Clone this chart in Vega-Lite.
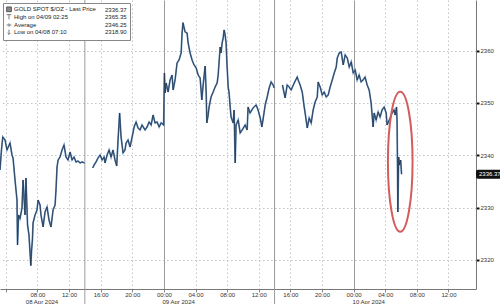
{
  "$schema": "https://vega.github.io/schema/vega-lite/v6.json",
  "width": 476,
  "height": 289,
  "padding": {"left": 0, "top": 0, "right": 24, "bottom": 15},
  "autosize": {"type": "none"},
  "background": "white",
  "config": {"view": {"stroke": null}, "font": "Liberation Sans"},
  "datasets": {
    "gold": [
      {"t": "2024-04-08T03:16:00Z", "p": 2337.19, "s": 1},
      {"t": "2024-04-08T03:27:00Z", "p": 2341.01, "s": 1},
      {"t": "2024-04-08T03:37:00Z", "p": 2343.5, "s": 1},
      {"t": "2024-04-08T03:54:00Z", "p": 2342.93, "s": 1},
      {"t": "2024-04-08T04:09:00Z", "p": 2341.01, "s": 1},
      {"t": "2024-04-08T04:32:00Z", "p": 2342.35, "s": 1},
      {"t": "2024-04-08T04:47:00Z", "p": 2340.06, "s": 1},
      {"t": "2024-04-08T04:55:00Z", "p": 2339.48, "s": 1},
      {"t": "2024-04-08T05:10:00Z", "p": 2335.28, "s": 1},
      {"t": "2024-04-08T05:25:00Z", "p": 2331.45, "s": 1},
      {"t": "2024-04-08T05:29:00Z", "p": 2322.85, "s": 1},
      {"t": "2024-04-08T05:37:00Z", "p": 2328.59, "s": 1},
      {"t": "2024-04-08T05:48:00Z", "p": 2327.9, "s": 1},
      {"t": "2024-04-08T06:03:00Z", "p": 2329.92, "s": 1},
      {"t": "2024-04-08T06:11:00Z", "p": 2335.28, "s": 1},
      {"t": "2024-04-08T06:26:00Z", "p": 2328.59, "s": 1},
      {"t": "2024-04-08T06:33:00Z", "p": 2335.66, "s": 1},
      {"t": "2024-04-08T06:45:00Z", "p": 2326.67, "s": 1},
      {"t": "2024-04-08T06:56:00Z", "p": 2324.76, "s": 1},
      {"t": "2024-04-08T07:10:00Z", "p": 2318.9, "s": 1},
      {"t": "2024-04-08T07:16:00Z", "p": 2321.89, "s": 1},
      {"t": "2024-04-08T07:22:00Z", "p": 2323.81, "s": 1},
      {"t": "2024-04-08T07:27:00Z", "p": 2327.06, "s": 1},
      {"t": "2024-04-08T07:42:00Z", "p": 2328.59, "s": 1},
      {"t": "2024-04-08T07:57:00Z", "p": 2329.54, "s": 1},
      {"t": "2024-04-08T08:05:00Z", "p": 2331.45, "s": 1},
      {"t": "2024-04-08T08:20:00Z", "p": 2330.5, "s": 1},
      {"t": "2024-04-08T08:27:00Z", "p": 2328.59, "s": 1},
      {"t": "2024-04-08T08:43:00Z", "p": 2326.29, "s": 1},
      {"t": "2024-04-08T08:58:00Z", "p": 2329.16, "s": 1},
      {"t": "2024-04-08T09:13:00Z", "p": 2330.11, "s": 1},
      {"t": "2024-04-08T09:28:00Z", "p": 2327.63, "s": 1},
      {"t": "2024-04-08T09:43:00Z", "p": 2326.29, "s": 1},
      {"t": "2024-04-08T09:59:00Z", "p": 2329.54, "s": 1},
      {"t": "2024-04-08T10:14:00Z", "p": 2330.5, "s": 1},
      {"t": "2024-04-08T10:21:00Z", "p": 2333.36, "s": 1},
      {"t": "2024-04-08T10:29:00Z", "p": 2337.76, "s": 1},
      {"t": "2024-04-08T10:37:00Z", "p": 2339.1, "s": 1},
      {"t": "2024-04-08T10:52:00Z", "p": 2339.67, "s": 1},
      {"t": "2024-04-08T11:07:00Z", "p": 2341.01, "s": 1},
      {"t": "2024-04-08T11:22:00Z", "p": 2341.97, "s": 1},
      {"t": "2024-04-08T11:37:00Z", "p": 2339.67, "s": 1},
      {"t": "2024-04-08T11:52:00Z", "p": 2339.1, "s": 1},
      {"t": "2024-04-08T12:08:00Z", "p": 2340.63, "s": 1},
      {"t": "2024-04-08T12:23:00Z", "p": 2339.1, "s": 1},
      {"t": "2024-04-08T12:38:00Z", "p": 2339.67, "s": 1},
      {"t": "2024-04-08T12:53:00Z", "p": 2338.72, "s": 1},
      {"t": "2024-04-08T13:08:00Z", "p": 2338.91, "s": 1},
      {"t": "2024-04-08T13:24:00Z", "p": 2338.53, "s": 1},
      {"t": "2024-04-08T13:39:00Z", "p": 2338.72, "s": 1},
      {"t": "2024-04-08T13:58:00Z", "p": 2338.53, "s": 1},
      {"t": "2024-04-08T15:00:00Z", "p": 2337.57, "s": 2},
      {"t": "2024-04-08T15:10:00Z", "p": 2338.14, "s": 2},
      {"t": "2024-04-08T15:25:00Z", "p": 2338.72, "s": 2},
      {"t": "2024-04-08T15:40:00Z", "p": 2339.48, "s": 2},
      {"t": "2024-04-08T15:56:00Z", "p": 2340.06, "s": 2},
      {"t": "2024-04-08T16:11:00Z", "p": 2339.1, "s": 2},
      {"t": "2024-04-08T16:26:00Z", "p": 2339.67, "s": 2},
      {"t": "2024-04-08T16:33:00Z", "p": 2338.53, "s": 2},
      {"t": "2024-04-08T16:49:00Z", "p": 2340.06, "s": 2},
      {"t": "2024-04-08T17:04:00Z", "p": 2341.01, "s": 2},
      {"t": "2024-04-08T17:19:00Z", "p": 2339.67, "s": 2},
      {"t": "2024-04-08T17:34:00Z", "p": 2341.01, "s": 2},
      {"t": "2024-04-08T17:49:00Z", "p": 2339.1, "s": 2},
      {"t": "2024-04-08T18:02:00Z", "p": 2337.95, "s": 2},
      {"t": "2024-04-08T18:12:00Z", "p": 2342.93, "s": 2},
      {"t": "2024-04-08T18:24:00Z", "p": 2348.09, "s": 2},
      {"t": "2024-04-08T18:35:00Z", "p": 2343.5, "s": 2},
      {"t": "2024-04-08T18:50:00Z", "p": 2340.44, "s": 2},
      {"t": "2024-04-08T19:05:00Z", "p": 2341.01, "s": 2},
      {"t": "2024-04-08T19:13:00Z", "p": 2342.35, "s": 2},
      {"t": "2024-04-08T19:28:00Z", "p": 2342.93, "s": 2},
      {"t": "2024-04-08T19:43:00Z", "p": 2341.59, "s": 2},
      {"t": "2024-04-08T19:59:00Z", "p": 2343.5, "s": 2},
      {"t": "2024-04-08T20:14:00Z", "p": 2345.41, "s": 2},
      {"t": "2024-04-08T20:29:00Z", "p": 2346.37, "s": 2},
      {"t": "2024-04-08T20:44:00Z", "p": 2345.22, "s": 2},
      {"t": "2024-04-08T20:59:00Z", "p": 2344.84, "s": 2},
      {"t": "2024-04-08T21:14:00Z", "p": 2345.79, "s": 2},
      {"t": "2024-04-08T21:37:00Z", "p": 2344.84, "s": 2},
      {"t": "2024-04-08T21:52:00Z", "p": 2345.41, "s": 2},
      {"t": "2024-04-08T22:08:00Z", "p": 2346.37, "s": 2},
      {"t": "2024-04-08T22:23:00Z", "p": 2345.79, "s": 2},
      {"t": "2024-04-08T22:38:00Z", "p": 2347.7, "s": 2},
      {"t": "2024-04-08T22:53:00Z", "p": 2346.18, "s": 2},
      {"t": "2024-04-08T23:08:00Z", "p": 2346.37, "s": 2},
      {"t": "2024-04-08T23:24:00Z", "p": 2345.41, "s": 2},
      {"t": "2024-04-08T23:39:00Z", "p": 2346.18, "s": 2},
      {"t": "2024-04-08T23:58:00Z", "p": 2345.79, "s": 2},
      {"t": "2024-04-09T00:04:00Z", "p": 2355.74, "s": 2},
      {"t": "2024-04-09T00:09:00Z", "p": 2351.91, "s": 2},
      {"t": "2024-04-09T00:17:00Z", "p": 2353.82, "s": 2},
      {"t": "2024-04-09T00:32:00Z", "p": 2352.1, "s": 2},
      {"t": "2024-04-09T00:47:00Z", "p": 2354.4, "s": 2},
      {"t": "2024-04-09T01:02:00Z", "p": 2355.35, "s": 2},
      {"t": "2024-04-09T01:10:00Z", "p": 2352.48, "s": 2},
      {"t": "2024-04-09T01:25:00Z", "p": 2354.4, "s": 2},
      {"t": "2024-04-09T01:40:00Z", "p": 2357.65, "s": 2},
      {"t": "2024-04-09T01:55:00Z", "p": 2358.22, "s": 2},
      {"t": "2024-04-09T02:11:00Z", "p": 2359.56, "s": 2},
      {"t": "2024-04-09T02:18:00Z", "p": 2363.38, "s": 2},
      {"t": "2024-04-09T02:25:00Z", "p": 2365.35, "s": 2},
      {"t": "2024-04-09T02:41:00Z", "p": 2363.57, "s": 2},
      {"t": "2024-04-09T02:56:00Z", "p": 2363.38, "s": 2},
      {"t": "2024-04-09T03:04:00Z", "p": 2361.47, "s": 2},
      {"t": "2024-04-09T03:19:00Z", "p": 2359.56, "s": 2},
      {"t": "2024-04-09T03:34:00Z", "p": 2358.22, "s": 2},
      {"t": "2024-04-09T03:49:00Z", "p": 2357.27, "s": 2},
      {"t": "2024-04-09T04:05:00Z", "p": 2356.69, "s": 2},
      {"t": "2024-04-09T04:20:00Z", "p": 2355.35, "s": 2},
      {"t": "2024-04-09T04:35:00Z", "p": 2354.78, "s": 2},
      {"t": "2024-04-09T04:48:00Z", "p": 2350.57, "s": 2},
      {"t": "2024-04-09T04:58:00Z", "p": 2353.44, "s": 2},
      {"t": "2024-04-09T05:13:00Z", "p": 2357.07, "s": 2},
      {"t": "2024-04-09T05:21:00Z", "p": 2351.91, "s": 2},
      {"t": "2024-04-09T05:26:00Z", "p": 2346.18, "s": 2},
      {"t": "2024-04-09T05:36:00Z", "p": 2347.7, "s": 2},
      {"t": "2024-04-09T05:43:00Z", "p": 2349.23, "s": 2},
      {"t": "2024-04-09T05:58:00Z", "p": 2351.15, "s": 2},
      {"t": "2024-04-09T06:14:00Z", "p": 2352.1, "s": 2},
      {"t": "2024-04-09T06:29:00Z", "p": 2353.06, "s": 2},
      {"t": "2024-04-09T06:44:00Z", "p": 2353.82, "s": 2},
      {"t": "2024-04-09T06:52:00Z", "p": 2355.35, "s": 2},
      {"t": "2024-04-09T06:59:00Z", "p": 2357.84, "s": 2},
      {"t": "2024-04-09T07:07:00Z", "p": 2360.71, "s": 2},
      {"t": "2024-04-09T07:14:00Z", "p": 2359.56, "s": 2},
      {"t": "2024-04-09T07:22:00Z", "p": 2361.47, "s": 2},
      {"t": "2024-04-09T07:30:00Z", "p": 2362.43, "s": 2},
      {"t": "2024-04-09T07:37:00Z", "p": 2363.96, "s": 2},
      {"t": "2024-04-09T07:45:00Z", "p": 2363.0, "s": 2},
      {"t": "2024-04-09T07:52:00Z", "p": 2361.47, "s": 2},
      {"t": "2024-04-09T08:00:00Z", "p": 2356.88, "s": 2},
      {"t": "2024-04-09T08:08:00Z", "p": 2353.06, "s": 2},
      {"t": "2024-04-09T08:15:00Z", "p": 2351.91, "s": 2},
      {"t": "2024-04-09T08:23:00Z", "p": 2349.23, "s": 2},
      {"t": "2024-04-09T08:30:00Z", "p": 2347.32, "s": 2},
      {"t": "2024-04-09T08:46:00Z", "p": 2346.18, "s": 2},
      {"t": "2024-04-09T08:53:00Z", "p": 2348.66, "s": 2},
      {"t": "2024-04-09T09:01:00Z", "p": 2338.53, "s": 2},
      {"t": "2024-04-09T09:08:00Z", "p": 2345.79, "s": 2},
      {"t": "2024-04-09T09:24:00Z", "p": 2346.75, "s": 2},
      {"t": "2024-04-09T09:39:00Z", "p": 2344.26, "s": 2},
      {"t": "2024-04-09T09:54:00Z", "p": 2344.84, "s": 2},
      {"t": "2024-04-09T10:17:00Z", "p": 2345.79, "s": 2},
      {"t": "2024-04-09T10:32:00Z", "p": 2344.84, "s": 2},
      {"t": "2024-04-09T10:39:00Z", "p": 2349.23, "s": 2},
      {"t": "2024-04-09T10:54:00Z", "p": 2348.09, "s": 2},
      {"t": "2024-04-09T11:17:00Z", "p": 2349.04, "s": 2},
      {"t": "2024-04-09T11:40:00Z", "p": 2349.62, "s": 2},
      {"t": "2024-04-09T11:55:00Z", "p": 2348.66, "s": 2},
      {"t": "2024-04-09T12:11:00Z", "p": 2347.13, "s": 2},
      {"t": "2024-04-09T12:24:00Z", "p": 2345.41, "s": 2},
      {"t": "2024-04-09T12:49:00Z", "p": 2349.62, "s": 2},
      {"t": "2024-04-09T13:04:00Z", "p": 2351.15, "s": 2},
      {"t": "2024-04-09T13:19:00Z", "p": 2352.87, "s": 2},
      {"t": "2024-04-09T13:34:00Z", "p": 2354.02, "s": 2},
      {"t": "2024-04-09T13:49:00Z", "p": 2353.44, "s": 2},
      {"t": "2024-04-09T13:57:00Z", "p": 2352.87, "s": 2},
      {"t": "2024-04-09T15:00:00Z", "p": 2353.44, "s": 3},
      {"t": "2024-04-09T15:20:00Z", "p": 2350.96, "s": 3},
      {"t": "2024-04-09T15:36:00Z", "p": 2353.44, "s": 3},
      {"t": "2024-04-09T15:51:00Z", "p": 2353.06, "s": 3},
      {"t": "2024-04-09T16:06:00Z", "p": 2352.49, "s": 3},
      {"t": "2024-04-09T16:29:00Z", "p": 2353.82, "s": 3},
      {"t": "2024-04-09T16:52:00Z", "p": 2354.97, "s": 3},
      {"t": "2024-04-09T16:59:00Z", "p": 2354.4, "s": 3},
      {"t": "2024-04-09T17:14:00Z", "p": 2353.44, "s": 3},
      {"t": "2024-04-09T17:30:00Z", "p": 2352.1, "s": 3},
      {"t": "2024-04-09T17:45:00Z", "p": 2349.23, "s": 3},
      {"t": "2024-04-09T17:52:00Z", "p": 2348.09, "s": 3},
      {"t": "2024-04-09T18:08:00Z", "p": 2345.22, "s": 3},
      {"t": "2024-04-09T18:23:00Z", "p": 2347.13, "s": 3},
      {"t": "2024-04-09T18:38:00Z", "p": 2346.18, "s": 3},
      {"t": "2024-04-09T18:53:00Z", "p": 2348.66, "s": 3},
      {"t": "2024-04-09T19:08:00Z", "p": 2350.19, "s": 3},
      {"t": "2024-04-09T19:24:00Z", "p": 2351.15, "s": 3},
      {"t": "2024-04-09T19:31:00Z", "p": 2354.02, "s": 3},
      {"t": "2024-04-09T19:46:00Z", "p": 2353.06, "s": 3},
      {"t": "2024-04-09T20:02:00Z", "p": 2351.53, "s": 3},
      {"t": "2024-04-09T20:17:00Z", "p": 2352.1, "s": 3},
      {"t": "2024-04-09T20:32:00Z", "p": 2351.15, "s": 3},
      {"t": "2024-04-09T20:47:00Z", "p": 2351.53, "s": 3},
      {"t": "2024-04-09T21:02:00Z", "p": 2353.06, "s": 3},
      {"t": "2024-04-09T21:18:00Z", "p": 2354.4, "s": 3},
      {"t": "2024-04-09T21:33:00Z", "p": 2355.74, "s": 3},
      {"t": "2024-04-09T21:48:00Z", "p": 2356.88, "s": 3},
      {"t": "2024-04-09T21:56:00Z", "p": 2358.6, "s": 3},
      {"t": "2024-04-09T22:11:00Z", "p": 2359.56, "s": 3},
      {"t": "2024-04-09T22:26:00Z", "p": 2359.75, "s": 3},
      {"t": "2024-04-09T22:41:00Z", "p": 2357.27, "s": 3},
      {"t": "2024-04-09T22:56:00Z", "p": 2359.18, "s": 3},
      {"t": "2024-04-09T23:12:00Z", "p": 2358.6, "s": 3},
      {"t": "2024-04-09T23:27:00Z", "p": 2356.88, "s": 3},
      {"t": "2024-04-09T23:42:00Z", "p": 2357.84, "s": 3},
      {"t": "2024-04-09T23:57:00Z", "p": 2355.74, "s": 3},
      {"t": "2024-04-10T00:12:00Z", "p": 2356.31, "s": 3},
      {"t": "2024-04-10T00:27:00Z", "p": 2354.4, "s": 3},
      {"t": "2024-04-10T00:42:00Z", "p": 2355.35, "s": 3},
      {"t": "2024-04-10T00:57:00Z", "p": 2354.02, "s": 3},
      {"t": "2024-04-10T01:12:00Z", "p": 2354.4, "s": 3},
      {"t": "2024-04-10T01:27:00Z", "p": 2354.97, "s": 3},
      {"t": "2024-04-10T01:43:00Z", "p": 2353.44, "s": 3},
      {"t": "2024-04-10T01:58:00Z", "p": 2352.49, "s": 3},
      {"t": "2024-04-10T02:13:00Z", "p": 2350.0, "s": 3},
      {"t": "2024-04-10T02:28:00Z", "p": 2345.41, "s": 3},
      {"t": "2024-04-10T02:36:00Z", "p": 2348.09, "s": 3},
      {"t": "2024-04-10T02:51:00Z", "p": 2346.75, "s": 3},
      {"t": "2024-04-10T03:06:00Z", "p": 2348.28, "s": 3},
      {"t": "2024-04-10T03:21:00Z", "p": 2347.32, "s": 3},
      {"t": "2024-04-10T03:36:00Z", "p": 2348.66, "s": 3},
      {"t": "2024-04-10T03:52:00Z", "p": 2349.23, "s": 3},
      {"t": "2024-04-10T04:07:00Z", "p": 2348.09, "s": 3},
      {"t": "2024-04-10T04:14:00Z", "p": 2345.79, "s": 3},
      {"t": "2024-04-10T04:37:00Z", "p": 2347.13, "s": 3},
      {"t": "2024-04-10T04:52:00Z", "p": 2348.09, "s": 3},
      {"t": "2024-04-10T05:07:00Z", "p": 2348.66, "s": 3},
      {"t": "2024-04-10T05:15:00Z", "p": 2347.7, "s": 3},
      {"t": "2024-04-10T05:26:00Z", "p": 2349.23, "s": 3},
      {"t": "2024-04-10T05:30:00Z", "p": 2346.4, "s": 3},
      {"t": "2024-04-10T05:32:00Z", "p": 2340.99, "s": 3},
      {"t": "2024-04-10T05:36:00Z", "p": 2329.16, "s": 3},
      {"t": "2024-04-10T05:42:00Z", "p": 2339.67, "s": 3},
      {"t": "2024-04-10T05:49:00Z", "p": 2338.14, "s": 3},
      {"t": "2024-04-10T05:57:00Z", "p": 2339.1, "s": 3},
      {"t": "2024-04-10T06:04:00Z", "p": 2336.37, "s": 3}
    ],
    "last": [{"t": "2024-04-10T15:29:00Z", "p": 2336.37, "label": "2336.37"}],
    "ring": [{"t": "2024-04-10T05:54:00Z", "p": 2338.77}],
    "sessions": [{"t": "2024-04-08T14:00:00Z"}, {"t": "2024-04-09T14:00:00Z"}],
    "days": [
      {"t": "2024-04-08T08:35:00Z", "label": "08 Apr 2024"},
      {"t": "2024-04-09T01:52:00Z", "label": "09 Apr 2024"},
      {"t": "2024-04-10T01:55:00Z", "label": "10 Apr 2024"}
    ],
    "legendRows": []
  },
  "layer": [
    {
      "data": {"name": "sessions"},
      "mark": {"type": "rule", "color": "#9a9a9a", "strokeWidth": 1, "y2Offset": 15},
      "encoding": {
        "x": {
          "field": "t",
          "type": "temporal",
          "scale": {"type": "utc", "domain": [1712546160000, 1712762940000]},
          "axis": {
            "orient": "bottom",
            "title": null,
            "values": [1712548800000, 1712563200000, 1712577600000, 1712592000000, 1712606400000, 1712620800000, 1712635200000, 1712649600000, 1712664000000, 1712678400000, 1712692800000, 1712707200000, 1712721600000, 1712736000000, 1712750400000],
            "labelExpr": "datum.value > 1712550000000 ? utcFormat(datum.value, '%H:%M') : ''",
            "labelFlush": false,
            "labelOverlap": false,
            "labelFontSize": 6,
            "labelColor": "#333",
            "labelPadding": -1,
            "grid": true,
            "gridColor": {"condition": {"test": "utchours(datum.value) === 0", "value": "#9a9a9a"}, "value": "#c4c4c4"},
            "gridDash": {"condition": {"test": "utchours(datum.value) === 0", "value": []}, "value": [1.5, 2.5]},
            "tickSize": 3,
            "tickColor": "#888",
            "domainColor": "#777"
          }
        },
        "y": {
          "datum": 2369.69,
          "type": "quantitative",
          "scale": {"domain": [2314.43, 2369.69], "nice": false, "zero": false},
          "axis": {
            "orient": "right",
            "title": null,
            "values": [2320, 2330, 2340, 2350, 2360],
            "format": "d",
            "labelFontSize": 6,
            "labelColor": "#333",
            "labelPadding": 1,
            "grid": true,
            "gridColor": "#c4c4c4",
            "gridDash": [1.5, 2.5],
            "tickSize": 3,
            "tickColor": "#111",
            "tickWidth": 2,
            "domainColor": "#777"
          }
        },
        "y2": {"datum": 2314.43}
      }
    },
    {
      "data": {"name": "days"},
      "mark": {"type": "text", "color": "#333", "fontSize": 6, "baseline": "middle", "align": "center", "dy": 12.5},
      "encoding": {
        "x": {"field": "t", "type": "temporal", "axis": null},
        "y": {"datum": 2314.43, "type": "quantitative"},
        "text": {"field": "label"}
      }
    },
    {
      "data": {"name": "gold"},
      "mark": {"type": "line", "color": "#5b88b8", "strokeWidth": 1.7},
      "encoding": {
        "x": {"field": "t", "type": "temporal", "axis": null},
        "y": {"field": "p", "type": "quantitative"},
        "detail": {"field": "s", "type": "nominal"}
      }
    },
    {
      "data": {"name": "gold"},
      "mark": {"type": "line", "color": "#1f2a3a", "strokeWidth": 0.7},
      "encoding": {
        "x": {"field": "t", "type": "temporal", "axis": null},
        "y": {"field": "p", "type": "quantitative"},
        "detail": {"field": "s", "type": "nominal"}
      }
    },
    {
      "data": {"name": "ring"},
      "mark": {"type": "point", "shape": "M0,-1 C0.0972,-1 0.176,-0.5523 0.176,0 C0.176,0.5523 0.0972,1 0,1 C-0.0972,1 -0.176,0.5523 -0.176,0 C-0.176,-0.5523 -0.0972,-1 0,-1 Z", "size": 19600, "filled": false, "stroke": "#d35d5d", "strokeWidth": 2, "opacity": 1},
      "encoding": {
        "x": {"field": "t", "type": "temporal", "axis": null},
        "y": {"field": "p", "type": "quantitative"}
      }
    },
    {
      "data": {"name": "last"},
      "mark": {"type": "rect", "color": "#111", "x2Offset": 26, "yOffset": -4.5, "y2Offset": 4.5, "cornerRadius": 2},
      "encoding": {
        "x": {"field": "t", "type": "temporal", "axis": null},
        "x2": {"field": "t"},
        "y": {"field": "p", "type": "quantitative"},
        "y2": {"field": "p"}
      }
    },
    {
      "data": {"name": "last"},
      "mark": {"type": "text", "color": "white", "align": "left", "baseline": "middle", "dx": 3, "fontSize": 6},
      "encoding": {
        "x": {"field": "t", "type": "temporal", "axis": null},
        "y": {"field": "p", "type": "quantitative"},
        "text": {"field": "label"}
      }
    },
    {
      "data": {"name": "legendRows"},
      "mark": {"type": "point", "filled": false, "strokeWidth": 1},
      "encoding": {
        "stroke": {
          "field": "k",
          "type": "nominal",
          "scale": {
            "domain": ["GOLD SPOT $/OZ - Last Price", "High on 04/09 02:25", "Average", "Low on 04/08 07:10", "2336.37", "2365.35", "2346.25", "2318.90"],
            "range": ["#111", "#444", "#444", "#444", "#444", "#444", "#444", "#444"]
          },
          "legend": {
            "orient": "top-left",
            "offset": 3,
            "columns": 2,
            "title": null,
            "fillColor": "white",
            "strokeColor": "#888",
            "padding": 3,
            "rowPadding": -2,
            "columnPadding": -5,
            "labelFontSize": 6,
            "labelColor": "#222",
            "labelOffset": 2,
            "labelLimit": 200,
            "symbolSize": 22,
            "symbolStrokeWidth": 1
          }
        },
        "fill": {
          "field": "k",
          "type": "nominal",
          "scale": {
            "domain": ["GOLD SPOT $/OZ - Last Price", "High on 04/09 02:25", "Average", "Low on 04/08 07:10", "2336.37", "2365.35", "2346.25", "2318.90"],
            "range": ["#111", "transparent", "transparent", "transparent", "transparent", "transparent", "transparent", "transparent"]
          },
          "legend": {
            "orient": "top-left",
            "offset": 3,
            "columns": 2,
            "title": null,
            "fillColor": "white",
            "strokeColor": "#888",
            "padding": 3,
            "rowPadding": -2,
            "columnPadding": -5,
            "labelFontSize": 6,
            "labelColor": "#222",
            "labelOffset": 2,
            "labelLimit": 200,
            "symbolSize": 22,
            "symbolStrokeWidth": 1
          }
        },
        "shape": {
          "field": "k",
          "type": "nominal",
          "scale": {
            "domain": ["GOLD SPOT $/OZ - Last Price", "High on 04/09 02:25", "Average", "Low on 04/08 07:10", "2336.37", "2365.35", "2346.25", "2318.90"],
            "range": ["square", "M-1,-1L1,-1M0,-1L0,1", "M-1,0L1,0M0,-0.7L0,0.7", "M0,-1L0,1M-0.6,0.4L0,1L0.6,0.4", "M0,0", "M0,0", "M0,0", "M0,0"]
          },
          "legend": {
            "orient": "top-left",
            "offset": 3,
            "columns": 2,
            "title": null,
            "fillColor": "white",
            "strokeColor": "#888",
            "padding": 3,
            "rowPadding": -2,
            "columnPadding": -5,
            "labelFontSize": 6,
            "labelColor": "#222",
            "labelOffset": 2,
            "labelLimit": 200,
            "symbolSize": 22,
            "symbolStrokeWidth": 1
          }
        }
      }
    }
  ],
  "resolve": {"axis": {"x": "independent"}}
}
